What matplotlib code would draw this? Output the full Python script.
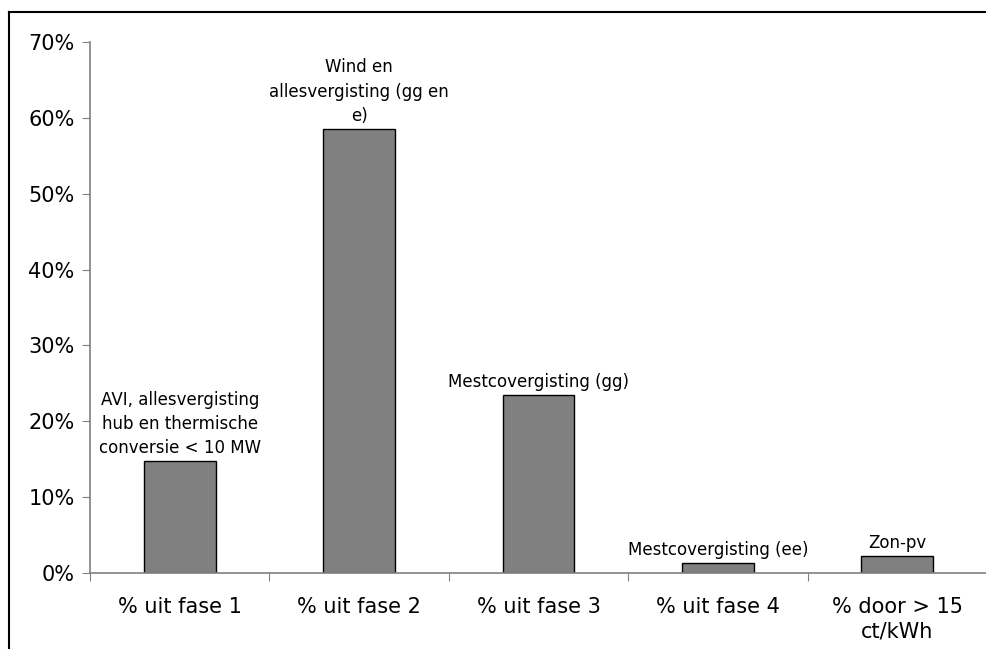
import matplotlib
matplotlib.use("Agg")
import matplotlib.pyplot as plt
from matplotlib.lines import Line2D
from matplotlib.ticker import FuncFormatter

# data (percent)
categories = ["% uit fase 1", "% uit fase 2", "% uit fase 3", "% uit fase 4",
              "% door > 15\nct/kWh"]
values = [14.7, 58.5, 23.4, 1.3, 2.2]
notes = ["AVI, allesvergisting\nhub en thermische\nconversie < 10 MW",
         "Wind en\nallesvergisting (gg en\ne)",
         "Mestcovergisting (gg)",
         "Mestcovergisting (ee)",
         "Zon-pv"]

plt.rcParams['font.family'] = ['DejaVu Sans']

fig = plt.figure(figsize=(9.86, 6.49), dpi=100)
ax = fig.add_axes([90 / 986, 76 / 649, 897 / 986, 531 / 649])

x = range(len(categories))
bars = ax.bar(x, values, width=0.4, color="#808080", edgecolor="black", linewidth=1)

# labels above the bars
for xi, v, txt in zip(x, values, notes):
    ax.annotate(txt, (xi, v), xytext=(0, 3), textcoords="offset points",
                ha="center", va="bottom", fontsize=12, linespacing=1.45)

ax.set_xlim(-0.5, 4.5)
ax.set_ylim(0, 70)
ax.set_yticks(range(0, 71, 10))
ax.yaxis.set_major_formatter(FuncFormatter(lambda v, p: "%d%%" % v))
ax.set_xticks([i - 0.5 for i in range(len(categories))])
ax.set_xticklabels([])
ax.set_xticks(list(x), minor=True)
ax.set_xticklabels(categories, minor=True, fontsize=15, linespacing=1.3)
ax.tick_params(axis="x", which="minor", length=0, pad=17)
ax.tick_params(axis="x", which="major", length=6, color="#808080", direction="out")
ax.tick_params(axis="y", length=6, color="#808080", labelsize=15, pad=5)

for s in ["top", "right"]:
    ax.spines[s].set_visible(False)
for s in ["left", "bottom"]:
    ax.spines[s].set_color("#808080")
    ax.spines[s].set_linewidth(1.2)

# outer frame of the chart area
fig.add_artist(Line2D([9 / 986, 1.0], [1 - 12 / 649, 1 - 12 / 649],
                      transform=fig.transFigure, color="black", linewidth=1.5))
fig.add_artist(Line2D([9 / 986, 9 / 986], [0, 1 - 12 / 649],
                      transform=fig.transFigure, color="black", linewidth=1.5))

fig.savefig("out.png", dpi=100)
